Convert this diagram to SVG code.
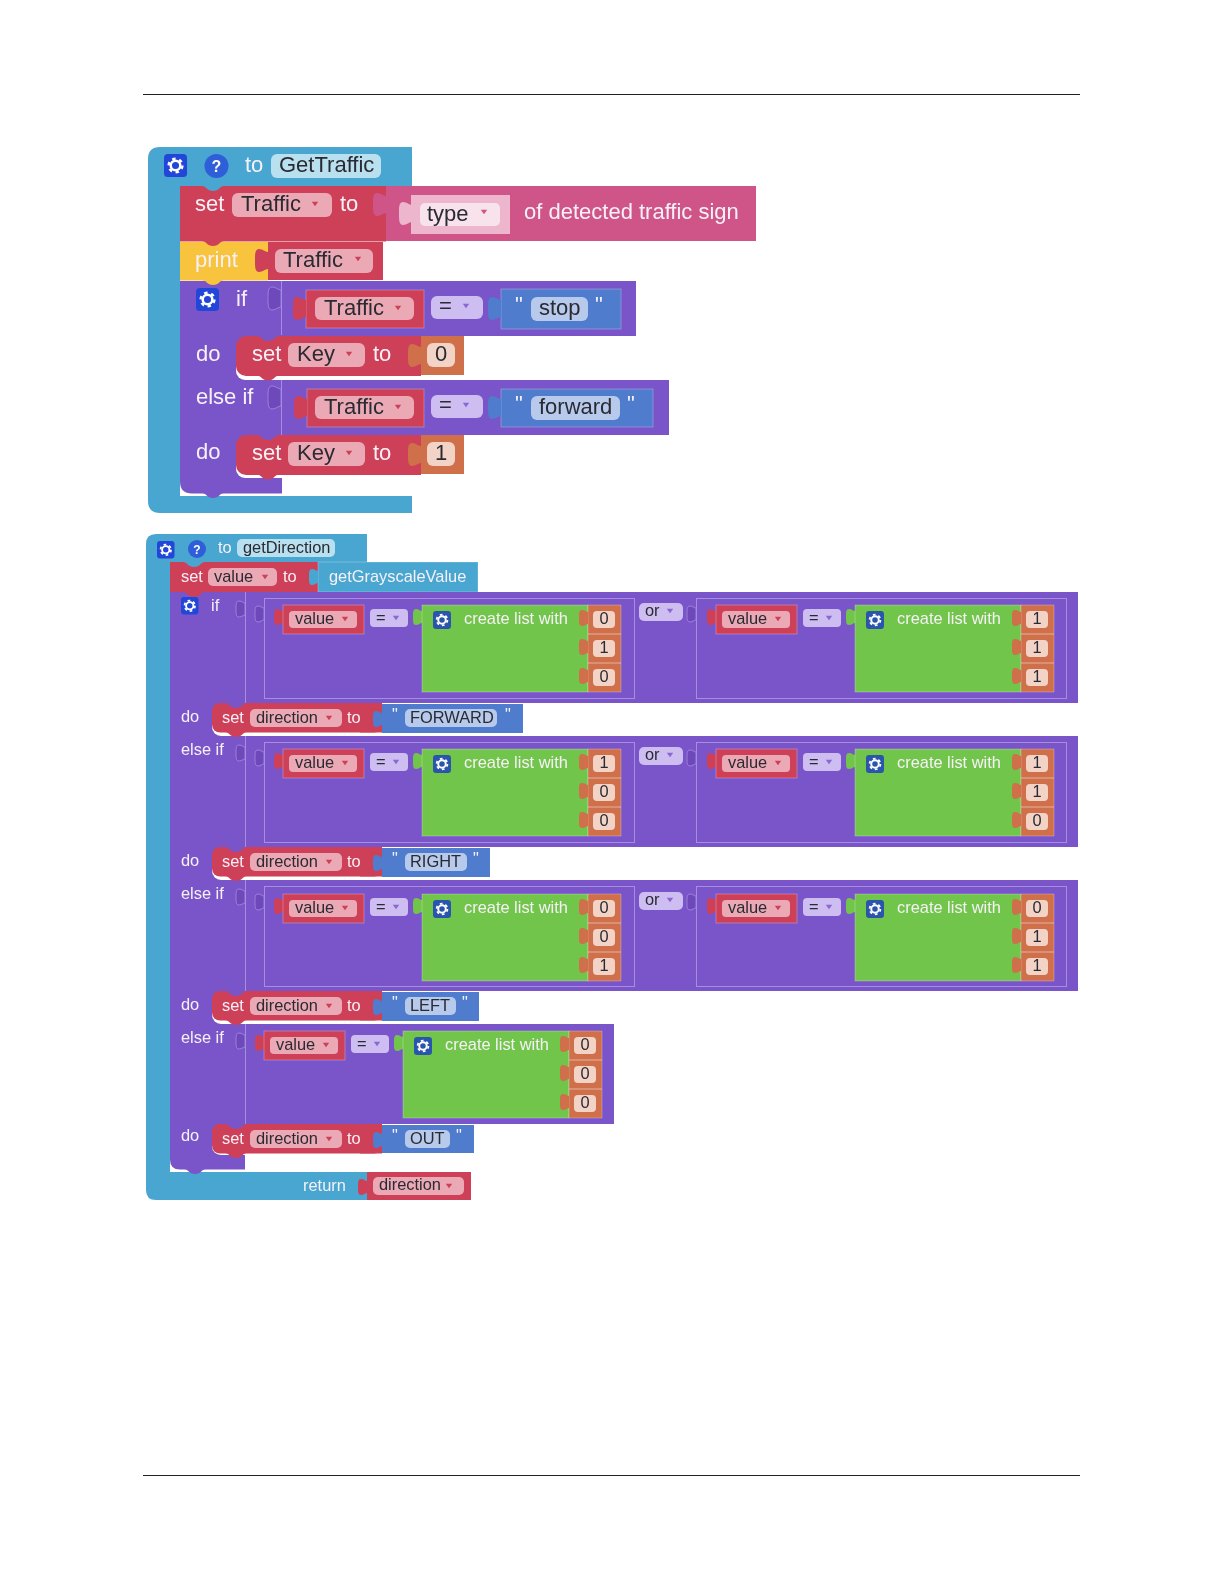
<svg xmlns="http://www.w3.org/2000/svg" xmlns:xlink="http://www.w3.org/1999/xlink" width="1224" height="1584" viewBox="0 0 1224 1584">
<style>
text{font-family:"Liberation Sans",Arial,sans-serif}
.a text{font-size:22px}
.b text{font-size:16.4px}
.w{fill:#f6f1f6}
.k{fill:#2a2a33}
.blue{fill:#49a6d1}.red{fill:#cd4159}.pink{fill:#cf5488}.yel{fill:#f8c33e}.pur{fill:#7a55c9}.ora{fill:#cf6f4b}.gre{fill:#72c54b}.str{fill:#4f7ccd}
.fr{fill:#eaa9b4}.fo{fill:#f2d3c6}.fp{fill:#cdbdf0}.fs{fill:#b7caec}.fb{fill:#b9e0ee}
.frame{fill:none;stroke:#a48edd;stroke-width:1}
.edge{stroke:#ffffff;stroke-opacity:.25;stroke-width:1}
.slot{fill:#6d49bb;stroke:#a48edd;stroke-width:.8}
.ar{fill:#cd4159}.ap{fill:#8a68d2}
</style>
<defs>
<filter id="soft" x="0" y="0" width="100%" height="100%"><feGaussianBlur stdDeviation="0.7"/></filter>
<path id="tab" d="M0,0 C-2,0 -3,-2 -6,-2 C-9,-2 -9,1 -9,6 C-9,11 -9,14 -6,14 C-3,14 -2,12 0,12 Z"/>
<path id="tabL" d="M0,0 C-3,0 -5,-3 -9,-3 C-13,-3 -13,2 -13,8.500 C-13,15 -13,20 -9,20 C-5,20 -3,17 0,17 Z"/>
<path id="bump" d="M-11,0 C-7,0 -6,5 0,5 C6,5 7,0 11,0 Z"/>
<path id="down" d="M-3.200,-2.200 H3.200 L0,2.200 Z"/>
<g id="gear">
<rect x="0" y="0" width="24" height="24" rx="4"/>
<circle cx="12" cy="12" r="5" fill="none" stroke="#fff" stroke-width="2.6"/>
<circle cx="12" cy="12" r="7.2" fill="none" stroke="#fff" stroke-width="2.4" stroke-dasharray="3.6 3.94"/>
</g>
<g id="cond">
<use href="#tab" x="0" y="6" class="red"/>
<rect x="0" y="0" width="81" height="29" class="red edge"/>
<rect x="6" y="6" width="68" height="17" rx="4" class="fr"/>
<use href="#down" x="62" y="14" class="ar"/>
<rect x="87" y="4" width="38" height="18" rx="4" class="fp"/>
<use href="#down" x="113" y="13" class="ap"/>
<use href="#tab" x="139" y="6" class="gre"/>
<rect x="139" y="0" width="166" height="87" class="gre edge"/>
<g fill="#2c55ad"><use href="#gear" transform="translate(150,6) scale(.75)"/></g>
<path d="M305,0h33v29h-33zM305,29h33v29h-33zM305,58h33v29h-33z" class="ora edge"/>
<use href="#tab" x="305" y="7" class="ora"/>
<use href="#tab" x="305" y="36" class="ora"/>
<use href="#tab" x="305" y="65" class="ora"/>
<rect x="310" y="6" width="22" height="17" rx="4" class="fo"/>
<rect x="310" y="35" width="22" height="17" rx="4" class="fo"/>
<rect x="310" y="64" width="22" height="17" rx="4" class="fo"/>
</g>
</defs>
<g id="page-rules" stroke="#222" stroke-width="1">
<line x1="143" y1="94.500" x2="1080" y2="94.500"/>
<line x1="143" y1="1475.500" x2="1080" y2="1475.500"/>
</g>
<g filter="url(#soft)">
<g id="connectors"></g>

<g id="GetTraffic" class="a">
<path class="blue" d="M160,147H412V186H180V496H412V513H160Q148,513 148,501V159Q148,147 160,147Z"/>
<g fill="#2346d8"><use href="#gear" transform="translate(164,154) scale(.96)"/></g>
<circle cx="216.500" cy="166" r="12" fill="#2f5fd8"/>
<text x="216.500" y="172" text-anchor="middle" style="font-size:16px;font-weight:bold" fill="#fff">?</text>
<text x="245" y="172" class="w">to</text>
<rect x="271" y="154" width="110" height="24" rx="6" class="fb"/>
<text x="279" y="172" class="k">GetTraffic</text>

<g id="set-traffic">
<rect x="180" y="186" width="206" height="55.500" class="red"/>
<use href="#bump" x="213" y="186" class="blue"/>
<text x="195" y="211" class="w">set</text>
<rect x="232" y="193" width="100" height="24" rx="6" class="fr"/>
<text x="241" y="211" class="k">Traffic</text>
<use href="#down" x="315" y="204" class="ar"/>
<text x="340" y="211" class="w">to</text>
</g>
<g id="type-block">
<rect x="386" y="186" width="370" height="55" class="pink"/>
<use href="#tabL" x="386" y="196" class="pink"/>
<use href="#tabL" x="412" y="205" fill="#eeb6cd"/>
<rect x="411" y="195" width="99" height="39" fill="#eeb6cd"/>
<rect x="420" y="203" width="80" height="23" rx="5" fill="#f8e3ec"/>
<text x="427" y="221" class="k">type</text>
<use href="#down" x="484" y="212" class="pink"/>
<text x="524" y="219" class="w">of detected traffic sign</text>
</g>
<g id="print-block">
<rect x="180" y="242" width="88" height="38.500" class="yel"/>
<use href="#bump" x="213" y="241" class="red"/>
<text x="195" y="267" class="w">print</text>
</g>
<g id="print-traffic">
<rect x="268" y="242" width="115" height="38" class="red"/>
<use href="#tabL" x="268" y="252" class="red"/>
<rect x="275" y="249" width="98" height="24" rx="6" class="fr"/>
<text x="283" y="267" class="k">Traffic</text>
<use href="#down" x="358" y="259" class="ar"/>
</g>
<g id="if-block">
<rect x="180" y="478" width="120" height="18" rx="9" fill="#fff"/>
<path class="pur" d="M180,281H282V493.500H192Q180,493.500 180,481.500Z"/>
<rect x="180" y="281" width="456" height="55" class="pur"/>
<rect x="180" y="380" width="489" height="55" class="pur"/>
<rect x="236" y="360" width="70" height="20" rx="9" fill="#fff"/>
<rect x="236" y="458" width="70" height="20" rx="9" fill="#fff"/>
<path class="frame" d="M281.500,281V335M281.500,380V435"/>
<use href="#bump" x="213" y="280" class="yel"/>
<use href="#bump" x="213" y="493" class="pur"/>
<g fill="#2346d8"><use href="#gear" transform="translate(196,288) scale(.96)"/></g>
<text x="236" y="306" class="w">if</text>
<use href="#tabL" x="281" y="290" class="slot"/>
<text x="196" y="361" class="w">do</text>
<text x="196" y="404" class="w">else if</text>
<use href="#tabL" x="281" y="389" class="slot"/>
<text x="196" y="459" class="w">do</text>
</g>
<g id="cond-stop">
<rect x="306" y="290" width="118" height="38" class="red edge"/>
<use href="#tabL" x="306" y="300" class="red"/>
<rect x="315" y="297" width="99" height="23" rx="6" class="fr"/>
<text x="324" y="315" class="k">Traffic</text>
<use href="#down" x="398" y="308" class="ar"/>
<rect x="431" y="296" width="52" height="23" rx="6" class="fp"/>
<text x="439" y="313" class="k">=</text>
<use href="#down" x="466" y="306" class="ap"/>
<rect x="501" y="289" width="120" height="40" class="str edge"/>
<use href="#tabL" x="501" y="300" class="str"/>
<text x="515" y="312" class="w">"</text>
<rect x="531" y="297" width="57" height="24" rx="6" class="fs"/>
<text x="539" y="315" class="k">stop</text>
<text x="595" y="312" class="w">"</text>
</g>
<g id="set-key-0">
<rect x="236" y="336" width="185" height="40" rx="10" class="red"/>
<rect x="400" y="336" width="21" height="40" class="red"/>
<use href="#bump" x="268" y="336" class="pur"/>
<use href="#bump" x="268" y="375.500" class="red"/>
<text x="252" y="361" class="w">set</text>
<rect x="288" y="343" width="77" height="24" rx="6" class="fr"/>
<text x="297" y="361" class="k">Key</text>
<use href="#down" x="349" y="354" class="ar"/>
<text x="373" y="361" class="w">to</text>
<rect x="421" y="336" width="43" height="39" class="ora"/>
<use href="#tabL" x="421" y="347" class="ora"/>
<rect x="427" y="343" width="28" height="24" rx="6" class="fo"/>
<text x="441" y="361" text-anchor="middle" class="k">0</text>
</g>
<g id="cond-forward">
<rect x="307" y="389" width="117" height="38" class="red edge"/>
<use href="#tabL" x="307" y="399" class="red"/>
<rect x="315" y="396" width="99" height="23" rx="6" class="fr"/>
<text x="324" y="414" class="k">Traffic</text>
<use href="#down" x="398" y="407" class="ar"/>
<rect x="431" y="395" width="52" height="23" rx="6" class="fp"/>
<text x="439" y="412" class="k">=</text>
<use href="#down" x="466" y="405" class="ap"/>
<rect x="501" y="389" width="152" height="38" class="str edge"/>
<use href="#tabL" x="501" y="399" class="str"/>
<text x="515" y="411" class="w">"</text>
<rect x="531" y="396" width="89" height="24" rx="6" class="fs"/>
<text x="539" y="414" class="k">forward</text>
<text x="627" y="411" class="w">"</text>
</g>
<g id="set-key-1">
<rect x="236" y="435" width="185" height="40" rx="10" class="red"/>
<rect x="400" y="435" width="21" height="40" class="red"/>
<use href="#bump" x="268" y="435" class="pur"/>
<use href="#bump" x="268" y="474.500" class="red"/>
<text x="252" y="460" class="w">set</text>
<rect x="288" y="442" width="77" height="24" rx="6" class="fr"/>
<text x="297" y="460" class="k">Key</text>
<use href="#down" x="349" y="453" class="ar"/>
<text x="373" y="460" class="w">to</text>
<rect x="421" y="435" width="43" height="39" class="ora"/>
<use href="#tabL" x="421" y="446" class="ora"/>
<rect x="427" y="442" width="28" height="24" rx="6" class="fo"/>
<text x="441" y="460" text-anchor="middle" class="k">1</text>
</g>
</g>

<g id="getDirection" class="b">
<path class="blue" d="M156,534H367V562H170V1172H367V1200H156Q146,1200 146,1190V544Q146,534 156,534Z"/>
<g fill="#2346d8"><use href="#gear" transform="translate(157,541) scale(.73)"/></g>
<circle cx="197" cy="549" r="9" fill="#2f5fd8"/>
<text x="197" y="553.500" text-anchor="middle" style="font-size:12px;font-weight:bold" fill="#fff">?</text>
<text x="218" y="553" class="w">to</text>
<rect x="237" y="539" width="98" height="18" rx="5" class="fb"/>
<text x="243" y="553" class="k">getDirection</text>
<g id="set-value">
<rect x="170" y="562" width="148" height="30" class="red"/>
<use href="#bump" x="194" y="562" class="blue"/>
<text x="181" y="582" class="w">set</text>
<rect x="208" y="568" width="69" height="18" rx="5" class="fr"/>
<text x="214" y="582" class="k">value</text>
<use href="#down" x="265" y="577" class="ar"/>
<text x="283" y="582" class="w">to</text>
</g>
<g id="getGrayscaleValue">
<rect x="318" y="562" width="160" height="30" class="blue edge"/>
<use href="#tab" x="318" y="571" class="blue"/>
<text x="329" y="582" class="w">getGrayscaleValue</text>
</g>
<g id="if-chain">
<rect x="170" y="1155" width="100" height="17" rx="9" fill="#fff"/>
<path class="pur" d="M170,592H245V1169.500H180Q170,1169.500 170,1159.500Z"/>
<rect x="170" y="592" width="908" height="111" class="pur"/>
<rect x="170" y="736" width="908" height="111" class="pur"/>
<rect x="170" y="880" width="908" height="111" class="pur"/>
<rect x="170" y="1024" width="444" height="100" class="pur"/>
<rect x="212" y="715" width="60" height="21" rx="9" fill="#fff"/>
<rect x="212" y="859" width="60" height="21" rx="9" fill="#fff"/>
<rect x="212" y="1003" width="60" height="21" rx="9" fill="#fff"/>
<rect x="212" y="1138" width="60" height="17" rx="9" fill="#fff"/>
<use href="#bump" x="194" y="592" class="red"/>
<use href="#bump" x="195" y="1169" class="pur"/>
<path class="frame" d="M245.500,592V703M245.500,736V847M245.500,880V991M245.500,1024V1124"/>
<rect x="264.500" y="598.500" width="370" height="100" class="frame"/>
<rect x="696.500" y="598.500" width="370" height="100" class="frame"/>
<rect x="264.500" y="742.500" width="370" height="100" class="frame"/>
<rect x="696.500" y="742.500" width="370" height="100" class="frame"/>
<rect x="264.500" y="886.500" width="370" height="100" class="frame"/>
<rect x="696.500" y="886.500" width="370" height="100" class="frame"/>
<g fill="#2346d8"><use href="#gear" transform="translate(181,597) scale(.73)"/></g>
<text x="211" y="611" class="w">if</text>
<text x="181" y="722" class="w">do</text>
<text x="181" y="755" class="w">else if</text>
<text x="181" y="866" class="w">do</text>
<text x="181" y="899" class="w">else if</text>
<text x="181" y="1010" class="w">do</text>
<text x="181" y="1043" class="w">else if</text>
<text x="181" y="1141" class="w">do</text>
<g class="slot"><use href="#tab" x="245" y="603"/><use href="#tab" x="245" y="747"/><use href="#tab" x="245" y="891"/><use href="#tab" x="245" y="1035"/><use href="#tab" x="264" y="608"/><use href="#tab" x="264" y="752"/><use href="#tab" x="264" y="896"/><use href="#tab" x="696" y="608"/><use href="#tab" x="696" y="752"/><use href="#tab" x="696" y="896"/></g>
<g id="or-1"><rect x="639" y="603" width="44" height="18" rx="5" class="fp"/><text x="645" y="616" class="k">or</text><use href="#down" x="670" y="611" class="ap"/></g>
<g id="or-2"><rect x="639" y="747" width="44" height="18" rx="5" class="fp"/><text x="645" y="760" class="k">or</text><use href="#down" x="670" y="755" class="ap"/></g>
<g id="or-3"><rect x="639" y="892" width="44" height="18" rx="5" class="fp"/><text x="645" y="905" class="k">or</text><use href="#down" x="670" y="900" class="ap"/></g>
</g>

<g id="cond-1a" transform="translate(283,605)"><use href="#cond"/><text x="12" y="19" class="k">value</text><text x="93" y="18" class="k">=</text><text x="181" y="19" class="w">create list with</text><text x="321" y="19" text-anchor="middle" class="k">0</text><text x="321" y="48" text-anchor="middle" class="k">1</text><text x="321" y="77" text-anchor="middle" class="k">0</text></g>
<g id="cond-1b" transform="translate(716,605)"><use href="#cond"/><text x="12" y="19" class="k">value</text><text x="93" y="18" class="k">=</text><text x="181" y="19" class="w">create list with</text><text x="321" y="19" text-anchor="middle" class="k">1</text><text x="321" y="48" text-anchor="middle" class="k">1</text><text x="321" y="77" text-anchor="middle" class="k">1</text></g>
<g id="cond-2a" transform="translate(283,749)"><use href="#cond"/><text x="12" y="19" class="k">value</text><text x="93" y="18" class="k">=</text><text x="181" y="19" class="w">create list with</text><text x="321" y="19" text-anchor="middle" class="k">1</text><text x="321" y="48" text-anchor="middle" class="k">0</text><text x="321" y="77" text-anchor="middle" class="k">0</text></g>
<g id="cond-2b" transform="translate(716,749)"><use href="#cond"/><text x="12" y="19" class="k">value</text><text x="93" y="18" class="k">=</text><text x="181" y="19" class="w">create list with</text><text x="321" y="19" text-anchor="middle" class="k">1</text><text x="321" y="48" text-anchor="middle" class="k">1</text><text x="321" y="77" text-anchor="middle" class="k">0</text></g>
<g id="cond-3a" transform="translate(283,894)"><use href="#cond"/><text x="12" y="19" class="k">value</text><text x="93" y="18" class="k">=</text><text x="181" y="19" class="w">create list with</text><text x="321" y="19" text-anchor="middle" class="k">0</text><text x="321" y="48" text-anchor="middle" class="k">0</text><text x="321" y="77" text-anchor="middle" class="k">1</text></g>
<g id="cond-3b" transform="translate(716,894)"><use href="#cond"/><text x="12" y="19" class="k">value</text><text x="93" y="18" class="k">=</text><text x="181" y="19" class="w">create list with</text><text x="321" y="19" text-anchor="middle" class="k">0</text><text x="321" y="48" text-anchor="middle" class="k">1</text><text x="321" y="77" text-anchor="middle" class="k">1</text></g>
<g id="cond-4" transform="translate(264,1031)"><use href="#cond"/><text x="12" y="19" class="k">value</text><text x="93" y="18" class="k">=</text><text x="181" y="19" class="w">create list with</text><text x="321" y="19" text-anchor="middle" class="k">0</text><text x="321" y="48" text-anchor="middle" class="k">0</text><text x="321" y="77" text-anchor="middle" class="k">0</text></g>

<g id="set-forward">
<rect x="212" y="703" width="170" height="29.500" rx="8" class="red"/><rect x="360" y="703" width="22" height="29.500" class="red"/>
<use href="#bump" x="236" y="703" class="pur"/><use href="#bump" x="236" y="732" class="red"/>
<text x="222" y="723" class="w">set</text><rect x="250" y="709" width="92" height="18" rx="5" class="fr"/><text x="256" y="723" class="k">direction</text><use href="#down" x="329" y="718" class="ar"/><text x="347" y="723" class="w">to</text>
<rect x="382" y="704" width="141" height="29" class="str"/><use href="#tab" x="382" y="713" class="str"/>
<text x="392" y="720" class="w">"</text><rect x="405" y="709" width="92" height="18" rx="5" class="fs"/><text x="410" y="723" class="k">FORWARD</text><text x="505" y="720" class="w">"</text>
</g>
<g id="set-right">
<rect x="212" y="847" width="170" height="29.500" rx="8" class="red"/><rect x="360" y="847" width="22" height="29.500" class="red"/>
<use href="#bump" x="236" y="847" class="pur"/><use href="#bump" x="236" y="876" class="red"/>
<text x="222" y="867" class="w">set</text><rect x="250" y="853" width="92" height="18" rx="5" class="fr"/><text x="256" y="867" class="k">direction</text><use href="#down" x="329" y="862" class="ar"/><text x="347" y="867" class="w">to</text>
<rect x="382" y="848" width="108" height="29" class="str"/><use href="#tab" x="382" y="857" class="str"/>
<text x="392" y="864" class="w">"</text><rect x="405" y="853" width="62" height="18" rx="5" class="fs"/><text x="410" y="867" class="k">RIGHT</text><text x="473" y="864" class="w">"</text>
</g>
<g id="set-left">
<rect x="212" y="991" width="170" height="29.500" rx="8" class="red"/><rect x="360" y="991" width="22" height="29.500" class="red"/>
<use href="#bump" x="236" y="991" class="pur"/><use href="#bump" x="236" y="1020" class="red"/>
<text x="222" y="1011" class="w">set</text><rect x="250" y="997" width="92" height="18" rx="5" class="fr"/><text x="256" y="1011" class="k">direction</text><use href="#down" x="329" y="1006" class="ar"/><text x="347" y="1011" class="w">to</text>
<rect x="382" y="992" width="97" height="29" class="str"/><use href="#tab" x="382" y="1001" class="str"/>
<text x="392" y="1008" class="w">"</text><rect x="405" y="997" width="51" height="18" rx="5" class="fs"/><text x="410" y="1011" class="k">LEFT</text><text x="462" y="1008" class="w">"</text>
</g>
<g id="set-out">
<rect x="212" y="1124" width="170" height="29.500" rx="8" class="red"/><rect x="360" y="1124" width="22" height="29.500" class="red"/>
<use href="#bump" x="236" y="1124" class="pur"/><use href="#bump" x="236" y="1153" class="red"/>
<text x="222" y="1144" class="w">set</text><rect x="250" y="1130" width="92" height="18" rx="5" class="fr"/><text x="256" y="1144" class="k">direction</text><use href="#down" x="329" y="1139" class="ar"/><text x="347" y="1144" class="w">to</text>
<rect x="382" y="1125" width="92" height="28" class="str"/><use href="#tab" x="382" y="1134" class="str"/>
<text x="392" y="1141" class="w">"</text><rect x="405" y="1130" width="45" height="18" rx="5" class="fs"/><text x="410" y="1144" class="k">OUT</text><text x="456" y="1141" class="w">"</text>
</g>
<g id="return">
<text x="303" y="1191" class="w">return</text>
<rect x="367" y="1172" width="104" height="28" class="red"/><use href="#tab" x="367" y="1181" class="red"/>
<rect x="373" y="1177" width="91" height="18" rx="5" class="fr"/><text x="379" y="1190" class="k">direction</text><use href="#down" x="449" y="1186" class="ar"/>
</g>
</g>
</g>
</svg>
